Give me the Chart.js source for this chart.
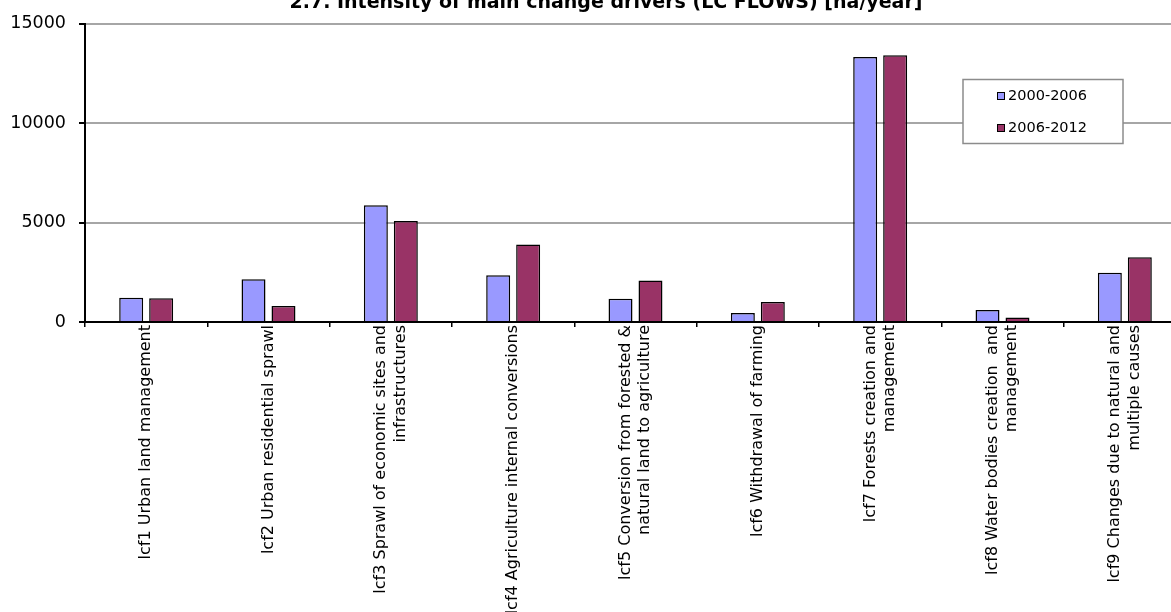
<!DOCTYPE html>
<html>
<head>
<meta charset="utf-8">
<script src="https://cdn.jsdelivr.net/npm/chart.js@4/dist/chart.umd.min.js"></script>
<style>
  html, body { margin: 0; padding: 0; width: 1171px; height: 612px; overflow: hidden; background: #fff; }
  #wrap { position: relative; width: 1171px; height: 612px; overflow: hidden; }
  #title { position: absolute; left: 0; top: -10px; width: 1212px; text-align: center;
           font: bold 19px "DejaVu Sans", Verdana, sans-serif; line-height: 22px; color: #000; white-space: nowrap; }
  #lcf-canvas { position: absolute; left: 0; top: 0; }
</style>
</head>
<body>
<div id="wrap">
  <canvas id="lcf-canvas" width="1200" height="700"></canvas>
  <div id="title">2.7. Intensity of main change drivers (LC FLOWS) [ha/year]</div>
</div>
<script>
let lcfLabels = [
  "lcf1 Urban land management",
  "lcf2 Urban residential sprawl",
  ["lcf3 Sprawl of economic sites and", "infrastructures"],
  "lcf4 Agriculture internal conversions",
  ["lcf5 Conversion from forested &", "natural land to agriculture"],
  "lcf6 Withdrawal of farming",
  ["lcf7 Forests creation and", "management"],
  ["lcf8 Water bodies creation  and", "management"],
  ["lcf9 Changes due to natural and", "multiple causes"]
];
let periods = ["2000-2006", "2006-2012"];
let scores2000 = [1220, 2150, 5870, 2350, 1170, 450, 13320, 600, 2480];
let scores2006 = [1190, 800, 5070, 3900, 2085, 1000, 13400, 220, 3250];
let yTicks = [0, 5000, 10000, 15000];

var lcfChart

// legend box sits inside the plot, top right like in excel
const legendBox = {
  id: 'legendBox',
  afterDraw(chart) {
    const ctx = chart.ctx;
    ctx.save();
    ctx.fillStyle = '#fff';
    ctx.fillRect(963, 79, 160, 64);
    ctx.strokeStyle = '#8c8c8c';
    ctx.lineWidth = 1.5;
    ctx.strokeRect(963, 79.5, 160, 64);
    ctx.font = '14.5px "DejaVu Sans"';
    ctx.textBaseline = 'middle';
    chart.data.datasets.forEach((ds, i) => {
      const y = 96 + i * 32;
      ctx.fillStyle = ds.backgroundColor;
      ctx.fillRect(997, y - 4, 8, 8);
      ctx.strokeStyle = '#000';
      ctx.lineWidth = 1;
      ctx.strokeRect(997.5, y - 3.5, 7, 7);
      ctx.fillStyle = '#000';
      ctx.fillText(ds.label, 1008, y);
    });
    ctx.restore();
  }
};

// chart.js puts the first line of a rotated label on the tick, excel centres the block
const centerLabels = {
  id: 'centerLabels',
  beforeDraw(chart) {
    const scale = chart.scales.x;
    const items = scale.getLabelItems(chart.chartArea);
    items.forEach((item) => {
      if (item._centered) return;
      item._centered = true;
      if (Array.isArray(item.label) && item.label.length > 1) {
        const lh = item.font.lineHeight;
        item.options.translation[0] -= lh * (item.label.length - 1) / 2;
      }
    });
  }
};

main();

function main() {
  lcfChart = setLcfChart();
}

function setLcfChart() {
  var ctx = document.getElementById("lcf-canvas");
  return new Chart(ctx, {
    type: 'bar',
    data: {
      labels: lcfLabels,
      datasets: [
        {
          label: periods[0],
          backgroundColor: '#9999ff',
          borderColor: '#000',
          borderWidth: 1.5,
          data: scores2000,
        },
        {
          label: periods[1],
          backgroundColor: '#993366',
          borderColor: '#000',
          borderWidth: 1.5,
          data: scores2006,
        }
      ]
    },
    options: {
      responsive: false,
      animation: false,
      layout: { padding: { top: 22, right: 14, left: 0, bottom: 0 } },
      datasets: { bar: { categoryPercentage: 0.49, barPercentage: 0.8 } },
      plugins: {
        legend: { display: false },
        title: { display: false },
        tooltip: { enabled: false }
      },
      scales: {
        x: {
          grid: { display: true, drawOnChartArea: false, tickLength: 5, tickColor: '#000', lineWidth: 1.5 },
          border: { color: '#000', width: 2 },
          ticks: {
            minRotation: 90, maxRotation: 90, autoSkip: false, padding: -2,
            color: '#000',
            font: { family: '"DejaVu Sans"', size: 16 }
          },
          afterFit: (scale) => { scale.height = 378; }
        },
        y: {
          min: 0,
          max: 15000,
          afterBuildTicks: (scale) => { scale.ticks = yTicks.map((v) => ({ value: v })); },
          grid: { color: '#a6a6a6', lineWidth: 2, tickLength: 6, tickColor: '#000' },
          border: { color: '#000', width: 2 },
          ticks: {
            padding: 13,
            color: '#000',
            font: { family: '"DejaVu Sans"', size: 17.5 },
            callback: (value) => String(value)
          },
          afterFit: (scale) => { scale.width = 85; }
        }
      }
    },
    plugins: [legendBox, centerLabels]
  });
}
</script>
</body>
</html>
